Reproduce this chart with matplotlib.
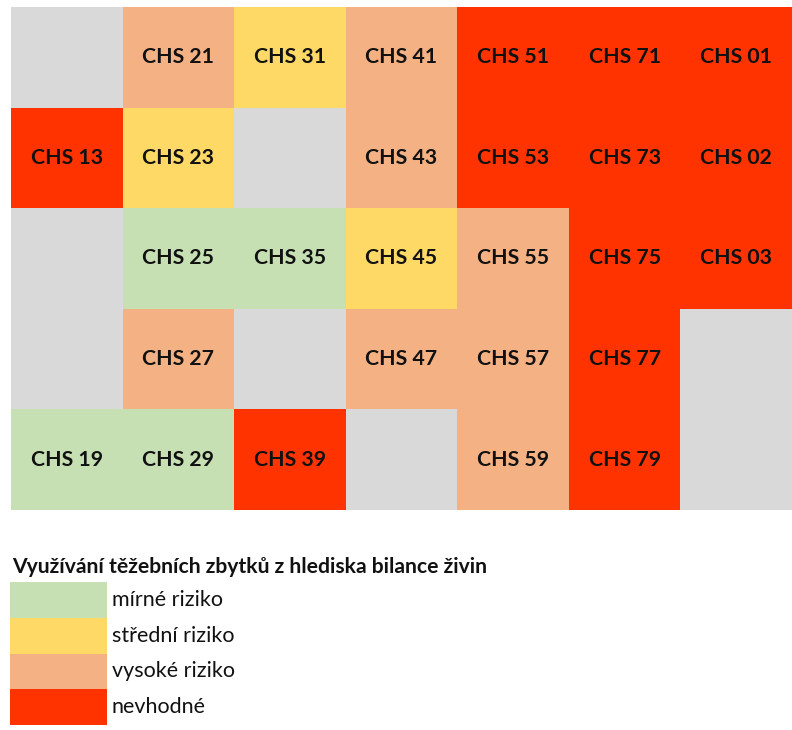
import numpy as np
import matplotlib
matplotlib.use("Agg")
import matplotlib.pyplot as plt
from matplotlib.colors import ListedColormap

# --- DATA ---
# category codes: 0 = no data (grey), 1 = mirne, 2 = stredni, 3 = vysoke, 4 = nevhodne
labels = [
    ["",       "CHS 21", "CHS 31", "CHS 41", "CHS 51", "CHS 71", "CHS 01"],
    ["CHS 13", "CHS 23", "",       "CHS 43", "CHS 53", "CHS 73", "CHS 02"],
    ["",       "CHS 25", "CHS 35", "CHS 45", "CHS 55", "CHS 75", "CHS 03"],
    ["",       "CHS 27", "",       "CHS 47", "CHS 57", "CHS 77", ""],
    ["CHS 19", "CHS 29", "CHS 39", "",       "CHS 59", "CHS 79", ""],
]
risk = [
    [0, 3, 2, 3, 4, 4, 4],
    [4, 2, 0, 3, 4, 4, 4],
    [0, 1, 1, 2, 3, 4, 4],
    [0, 3, 0, 3, 3, 4, 0],
    [1, 1, 4, 0, 3, 4, 0],
]
legend_title = "Využívání těžebních zbytků z hlediska bilance živin"
legend_labels = ["mírné riziko", "střední riziko", "vysoké riziko", "nevhodné"]
colors = ["#d9d9d9", "#c6e0b4", "#ffd966", "#f4b183", "#ff3300"]
# -------------

plt.rcParams["font.family"] = ["Lato", "DejaVu Sans"]

fig = plt.figure(figsize=(7.92, 7.30), dpi=100)
W, H = 792, 730

# grid of cells
ax = fig.add_axes([11 / W, (H - 510) / H, 781 / W, 503 / H])
cmap = ListedColormap(colors)
ax.pcolormesh(np.array(risk), cmap=cmap, vmin=-0.5, vmax=4.5)
ax.set_xlim(0, 7)
ax.set_ylim(5, 0)
ax.axis("off")
for r, row in enumerate(labels):
    for c, txt in enumerate(row):
        if txt:
            ax.text(c + 0.5, r + 0.5, txt, ha="center", va="center",
                    fontsize=15.3, fontweight="bold", color="#111111")

# legend
fig.text(12 / W, (H - 567) / H, legend_title, ha="left", va="center",
         fontsize=15.2, fontweight="bold", color="#111111")
lax = fig.add_axes([10 / W, (H - 725) / H, 97 / W, 143 / H])
ypos = np.arange(len(legend_labels))
lax.barh(ypos, 1, height=1.0, color=colors[1:], left=0)
lax.set_xlim(0, 1)
lax.set_ylim(len(legend_labels) - 0.5, -0.5)
lax.axis("off")
for i, lab in enumerate(legend_labels):
    lax.text(1.05, i, lab, ha="left", va="center", fontsize=15.5,
             color="#111111", transform=lax.get_yaxis_transform(), clip_on=False)

fig.savefig("out.png", dpi=100)
